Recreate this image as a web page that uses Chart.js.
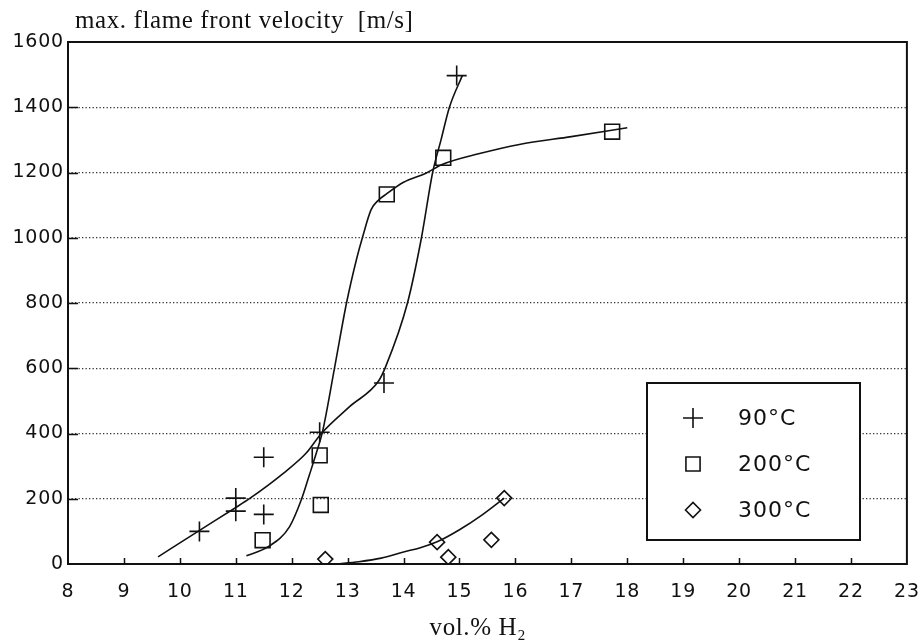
<!DOCTYPE html>
<html>
<head>
<meta charset="utf-8">
<script src="https://cdn.jsdelivr.net/npm/chart.js@4/dist/chart.umd.min.js"></script>
<style>
html, body { margin: 0; padding: 0; background: #fff; }
#c { display: block; }
</style>
</head>
<body>
<canvas id="c" width="919" height="640"></canvas>
<script>
// ---- Data ----
const seriesLabels = ['90°C', '200°C', '300°C'];

// measured points
const x90 = [10.35, 11.0, 11.0, 11.5, 11.5, 12.5, 13.65, 14.95];
const y90 = [100, 202, 162, 327, 152, 404, 555, 1497];
const x200 = [11.48, 12.52, 12.5, 13.7, 14.71, 17.73];
const y200 = [73, 181, 333, 1133, 1245, 1325];
const x300 = [12.6, 14.6, 14.8, 15.57, 15.8];
const y300 = [15, 67, 21, 74, 202];

// hand-drawn fit curves
const c90x = [9.61, 10.36, 10.98, 11.25, 11.85, 12.26, 12.53, 13.04, 13.55, 13.68, 14.07, 14.32, 14.52, 14.67, 14.82, 15.05];
const c90y = [22, 104, 171, 201, 278, 340, 400, 483, 560, 605, 800, 1000, 1200, 1300, 1400, 1497];
const c200x = [11.19, 11.58, 11.96, 12.17, 12.32, 12.44, 12.55, 12.77, 12.98, 13.16, 13.27, 13.42, 13.55, 13.7, 14.0, 14.4, 14.7, 15.36, 16.07, 17.0, 18.0];
const c200y = [25, 53, 114, 196, 275, 340, 405, 605, 800, 935, 1004, 1086, 1115, 1135, 1170, 1198, 1225, 1258, 1286, 1310, 1337];
const c300x = [12.8, 13.2, 13.6, 14.0, 14.3, 14.6, 15.0, 15.4, 15.8];
const c300y = [0, 7, 18, 37, 50, 68, 105, 150, 202];

// axes
const xTicks = [8, 9, 10, 11, 12, 13, 14, 15, 16, 17, 18, 19, 20, 21, 22, 23];
const yTicks = [0, 200, 400, 600, 800, 1000, 1200, 1400, 1600];
const yTitle = 'max. flame front velocity  [m/s]';
const xTitle = 'vol.% H₂';

const pts = (xs, ys) => xs.map((v, i) => ({ x: v, y: ys[i] }));

const INK = '#111';
const TICK_FONT = { family: "'DejaVu Sans', sans-serif", size: 19 };
const SERIF = "'Liberation Serif', 'DejaVu Serif', serif";

const markerStyles = [
  { pointStyle: 'cross', radius: 10 },
  { pointStyle: 'rect', radius: 10.5 },
  { pointStyle: 'rectRot', radius: 7.5 }
];

function curve(data) {
  return {
    data, showLine: true, pointRadius: 0, pointHoverRadius: 0,
    borderColor: INK, borderWidth: 1.6, fill: false,
    cubicInterpolationMode: 'monotone', order: 2
  };
}
function marks(label, data, st) {
  return {
    label, data, showLine: false,
    pointStyle: st.pointStyle, pointRadius: st.radius, pointHoverRadius: st.radius,
    pointBorderColor: INK, pointBackgroundColor: 'rgba(0,0,0,0)', pointBorderWidth: 1.6,
    borderColor: INK, order: 1
  };
}

const spacing = {
  id: 'spacing',
  beforeDraw(chart) {
    try { chart.ctx.letterSpacing = '0.8px'; } catch (e) {}
  }
};

const overlay = {
  id: 'overlay',
  afterDraw(chart) {
    const { ctx, chartArea: a, scales: { x, y } } = chart;
    ctx.save();
    try { ctx.letterSpacing = '0px'; } catch (e) {}
    // frame
    ctx.strokeStyle = INK;
    ctx.lineWidth = 2;
    ctx.strokeRect(a.left, a.top, a.right - a.left, a.bottom - a.top);
    // inner ticks
    ctx.lineWidth = 1.5;
    ctx.beginPath();
    xTicks.forEach(v => {
      if (v > xTicks[0] && v < xTicks[xTicks.length - 1]) {
        const px = Math.round(x.getPixelForValue(v)) + 0.5;
        ctx.moveTo(px, a.bottom);
        ctx.lineTo(px, a.bottom - 6);
      }
    });
    yTicks.forEach(v => {
      if (v > yTicks[0] && v < yTicks[yTicks.length - 1]) {
        const py = Math.round(y.getPixelForValue(v)) + 0.5;
        ctx.moveTo(a.left, py);
        ctx.lineTo(a.left + 10, py);
      }
    });
    ctx.stroke();

    // axis titles
    ctx.fillStyle = INK;
    ctx.font = '25px ' + SERIF;
    ctx.textAlign = 'left';
    ctx.textBaseline = 'alphabetic';
    try { ctx.letterSpacing = '0.6px'; } catch (e) {}
    ctx.fillText(yTitle, a.left + 7, 28);
    ctx.textAlign = 'center';
    ctx.fillText(xTitle, 478, 635);

    // legend box
    const L = { x: 647, y: 383, w: 213, h: 157 };
    ctx.fillStyle = '#fff';
    ctx.fillRect(L.x, L.y, L.w, L.h);
    ctx.strokeStyle = INK;
    ctx.lineWidth = 2;
    ctx.strokeRect(L.x, L.y, L.w, L.h);
    const rows = [418, 464, 510];
    ctx.font = "22px 'DejaVu Sans', sans-serif";
    try { ctx.letterSpacing = '1px'; } catch (e) {}
    ctx.textAlign = 'left';
    ctx.textBaseline = 'middle';
    seriesLabels.forEach((lab, i) => {
      const st = markerStyles[i];
      ctx.strokeStyle = INK;
      ctx.lineWidth = 1.6;
      ctx.fillStyle = 'rgba(0,0,0,0)';
      Chart.helpers.drawPoint(ctx, {
        pointStyle: st.pointStyle, rotation: 0,
        radius: i === 1 ? 10 : st.radius, borderWidth: 1.6
      }, 693, rows[i]);
      ctx.fillStyle = INK;
      ctx.fillText(lab, 738, rows[i] + 1);
    });
    ctx.restore();
  }
};

new Chart(document.getElementById('c'), {
  type: 'scatter',
  data: {
    datasets: [
      curve(pts(c90x, c90y)),
      curve(pts(c200x, c200y)),
      curve(pts(c300x, c300y)),
      marks(seriesLabels[0], pts(x90, y90), markerStyles[0]),
      marks(seriesLabels[1], pts(x200, y200), markerStyles[1]),
      marks(seriesLabels[2], pts(x300, y300), markerStyles[2])
    ]
  },
  options: {
    responsive: false,
    animation: false,
    devicePixelRatio: 1,
    layout: { padding: { top: 42, right: 11, left: 0, bottom: 0 } },
    plugins: { legend: { display: false }, title: { display: false }, tooltip: { enabled: false } },
    events: [],
    scales: {
      x: {
        type: 'linear',
        min: xTicks[0], max: xTicks[xTicks.length - 1],
        afterBuildTicks: s => { s.ticks = xTicks.map(v => ({ value: v })); },
        afterFit: s => { s.height = 76; s.paddingLeft = 0; s.paddingRight = 0; },
        grid: { display: false, drawTicks: false },
        border: { display: false },
        ticks: { color: INK, font: TICK_FONT, padding: 17, maxRotation: 0, autoSkip: false, callback: v => String(v) }
      },
      y: {
        type: 'linear',
        min: yTicks[0], max: yTicks[yTicks.length - 1],
        afterBuildTicks: s => { s.ticks = yTicks.map(v => ({ value: v })); },
        afterFit: s => { s.width = 68; s.paddingTop = 0; s.paddingBottom = 0; },
        grid: {
          drawTicks: false,
          lineWidth: 1.3,
          color: c => (c.tick && (c.tick.value === yTicks[0] || c.tick.value === yTicks[yTicks.length - 1])) ? 'rgba(0,0,0,0)' : '#333'
        },
        border: { display: false, dash: [1.3, 2.2] },
        ticks: { color: INK, font: TICK_FONT, padding: 4, autoSkip: false, callback: v => String(v) }
      }
    }
  },
  plugins: [spacing, overlay]
});
</script>
</body>
</html>
